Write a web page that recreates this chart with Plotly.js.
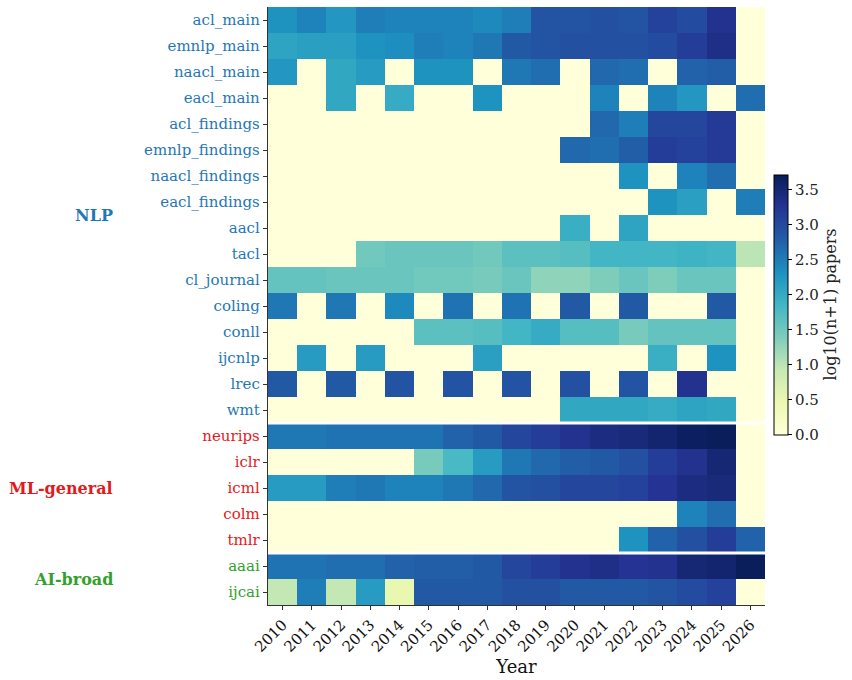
<!DOCTYPE html>
<html><head><meta charset="utf-8">
<script src="https://cdn.plot.ly/plotly-3.0.1.min.js"></script>
<style>body{margin:0;background:#fff}#chart{width:852px;height:680px}</style>
</head><body><div id="chart"></div>
<script>
const years = ["2010","2011","2012","2013","2014","2015","2016","2017","2018","2019","2020","2021","2022","2023","2024","2025","2026"];
const venues = ["acl_main","emnlp_main","naacl_main","eacl_main","acl_findings","emnlp_findings","naacl_findings","eacl_findings","aacl","tacl","cl_journal","coling","conll","ijcnlp","lrec","wmt","neurips","iclr","icml","colm","tmlr","aaai","ijcai"];
const groupNames = ["NLP","ML-general","AI-broad"];
const groupSizes = [16,5,2];
const groupColors = ["#1f78b4","#e31a1c","#33a02c"];

const acl_main       = [2.3,2.45,2.25,2.5,2.45,2.45,2.45,2.4,2.5,2.9,2.9,2.95,2.9,3.1,3.0,3.3,0];
const emnlp_main     = [2.1,2.15,2.15,2.3,2.35,2.5,2.45,2.55,2.85,2.9,2.95,2.95,2.95,3.0,3.15,3.35,0];
const naacl_main     = [2.25,0,2.05,2.2,0,2.3,2.3,0,2.55,2.65,0,2.7,2.65,0,2.75,2.8,0];
const eacl_main      = [0,0,2.05,0,2.0,0,0,2.3,0,0,0,2.45,0,2.45,2.25,0,2.65];
const acl_findings   = [0,0,0,0,0,0,0,0,0,0,0,2.7,2.5,3.05,3.05,3.2,0];
const emnlp_findings = [0,0,0,0,0,0,0,0,0,0,2.7,2.65,2.8,3.15,3.1,3.2,0];
const naacl_findings = [0,0,0,0,0,0,0,0,0,0,0,0,2.3,0,2.45,2.65,0];
const eacl_findings  = [0,0,0,0,0,0,0,0,0,0,0,0,0,2.3,2.15,0,2.5];
const aacl           = [0,0,0,0,0,0,0,0,0,0,1.95,0,2.1,0,0,0,0];
const tacl           = [0,0,0,1.5,1.55,1.55,1.55,1.5,1.65,1.65,1.7,1.85,1.85,1.85,1.9,1.85,1.0];
const cl_journal     = [1.6,1.6,1.55,1.55,1.55,1.5,1.5,1.45,1.55,1.3,1.3,1.4,1.55,1.4,1.55,1.55,0];
const coling         = [2.55,0,2.55,0,2.4,0,2.6,0,2.6,0,2.85,0,2.85,0,0,2.85,0];
const conll          = [0,0,0,0,0,1.65,1.65,1.7,1.85,2.0,1.7,1.7,1.45,1.6,1.6,1.6,0];
const ijcnlp         = [0,2.2,0,2.2,0,0,0,2.15,0,0,0,0,0,1.95,0,2.3,0];
const lrec           = [2.85,0,2.85,0,2.9,0,2.9,0,2.9,0,2.95,0,2.9,0,3.3,0,0];
const wmt            = [0,0,0,0,0,0,0,0,0,0,2.05,2.05,2.05,2.0,2.1,2.05,0];
const neurips        = [2.55,2.55,2.6,2.6,2.6,2.6,2.75,2.85,3.05,3.15,3.3,3.4,3.45,3.55,3.65,3.7,0];
const iclr           = [0,0,0,0,0,1.45,1.8,2.2,2.55,2.7,2.8,2.85,2.95,3.15,3.3,3.5,0];
const icml           = [2.2,2.2,2.5,2.55,2.45,2.45,2.55,2.7,2.9,2.95,3.05,3.05,3.1,3.25,3.4,3.45,0];
const colm           = [0,0,0,0,0,0,0,0,0,0,0,0,0,0,2.45,2.65,0];
const tmlr           = [0,0,0,0,0,0,0,0,0,0,0,0,2.3,2.75,2.95,3.15,2.75];
const aaai           = [2.6,2.6,2.65,2.65,2.75,2.8,2.8,2.85,3.05,3.15,3.3,3.35,3.25,3.3,3.5,3.55,3.7];
const ijcai          = [0.95,2.5,0.95,2.2,0.5,2.85,2.85,2.85,2.95,2.95,2.85,2.85,2.85,2.9,3.0,3.1,0];

const z = [acl_main,emnlp_main,naacl_main,eacl_main,acl_findings,emnlp_findings,naacl_findings,eacl_findings,aacl,tacl,cl_journal,coling,conll,ijcnlp,lrec,wmt,neurips,iclr,icml,colm,tmlr,aaai,ijcai];

const ylgnbu = ["#ffffd9","#edf8b1","#c7e9b4","#7fcdbb","#41b6c4","#1d91c0","#225ea8","#253494","#081d58"];
const colorscale = ylgnbu.map((c,i)=>[i/(ylgnbu.length-1), c]);
const zmax = 3.72;

const labelColor = [];
groupSizes.forEach((n,g)=>{for(let i=0;i<n;i++) labelColor.push(groupColors[g]);});
const ticktext = venues.map((v,i)=>`<span style="color:${labelColor[i]}">${v}</span>`);

const annotations = [];
const shapes = [];
let start = 0;
groupSizes.forEach((n,g)=>{
  annotations.push({xref:'paper', yref:'y', x:-0.307, y:start+(n-1)/2, xanchor:'right', yanchor:'middle',
    text:'<b>'+groupNames[g]+'</b>', showarrow:false, font:{family:'DejaVu Serif', size:16, color:groupColors[g]}});
  if (start>0) shapes.push({type:'line', xref:'paper', yref:'y', x0:0, x1:1, y0:start-0.5, y1:start-0.5, line:{color:'white', width:3}, layer:'above'});
  start += n;
});

const trace = {
  type:'heatmap', z:z, x:years, y:venues, zmin:0, zmax:zmax, colorscale:colorscale, xgap:0, ygap:0,
  colorbar:{x:1.018, xanchor:'left', y:0.5025, yanchor:'middle', len:260, lenmode:'pixels', thickness:14, xpad:0, ypad:0,
    outlinewidth:1, outlinecolor:'#000', ticks:'outside', ticklen:4, tickcolor:'#000', tickvals:[0,0.5,1,1.5,2,2.5,3,3.5],
    tickformat:'.1f', tickfont:{family:'DejaVu Serif', size:15, color:'#222'},
    title:{text:'log10(n+1) papers', side:'right', font:{family:'DejaVu Serif', size:16, color:'#222'}}},
  hovertemplate:'%{y} %{x}: %{z}<extra></extra>'
};

const layout = {
  width:852, height:680, margin:{l:268, r:87, t:7, b:75, autoexpand:false}, paper_bgcolor:'#fff', plot_bgcolor:'#fff',
  font:{family:'DejaVu Serif', color:'#222'},
  xaxis:{type:'category', tickangle:-45, ticks:'outside', ticklen:4, tickcolor:'#333', showline:true, linecolor:'#333', linewidth:1.2,
    showgrid:true, gridcolor:'rgba(170,170,170,0.55)', griddash:'dot', gridwidth:1, layer:'above traces',
    tickfont:{family:'DejaVu Serif', size:15, color:'#111'},
    title:{text:'Year', font:{family:'DejaVu Serif', size:18, color:'#111'}, standoff:2}},
  yaxis:{type:'category', autorange:'reversed', tickvals:venues, ticktext:ticktext, ticks:'outside', ticklen:4, tickcolor:'#333',
    showline:true, linecolor:'#333', linewidth:1.2,
    showgrid:true, gridcolor:'rgba(170,170,170,0.55)', griddash:'dot', gridwidth:1, layer:'above traces',
    tickfont:{family:'DejaVu Serif', size:15}},
  annotations:annotations, shapes:shapes
};

Plotly.newPlot('chart',[trace],layout,{displayModeBar:false, staticPlot:true});
</script></body></html>
